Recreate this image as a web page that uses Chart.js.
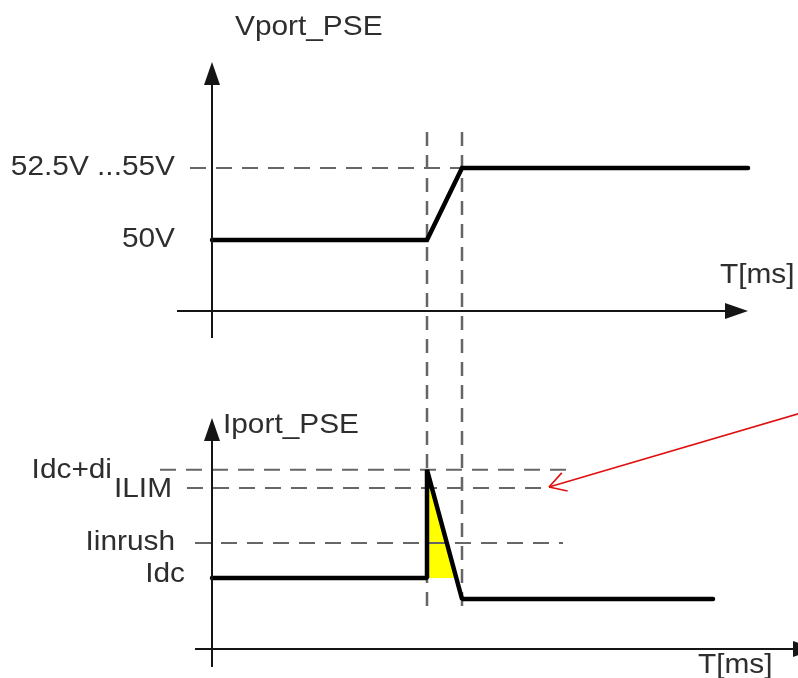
<!DOCTYPE html>
<html>
<head>
<meta charset="utf-8">
<title>Vport / Iport PSE</title>
<script src="https://cdn.jsdelivr.net/npm/chart.js@4.4.1/dist/chart.umd.min.js"></script>
<style>
  html, body { margin: 0; padding: 0; background: #fff; }
  #wrap { width: 798px; height: 678px; }
</style>
</head>
<body>
<div id="wrap"><canvas id="pse" width="798" height="678"></canvas></div>
<script>
// time points in ms (diagram units)
const tStart = 0;
const tRampStart = 21.5;
const tRampEnd = 25;

// Vport_PSE waveform
const vTime = [0, 21.5, 25, 53.6];
const vPort = [50, 50, 55, 55];
const vLevels = [55, 50];
const vLabels = ['52.5V ...55V', '50V'];

// Iport_PSE waveform
const iTime = [0, 21.5, 21.5, 25, 50.1];
const iPort = [0.40, 0.40, 0.709, 0.34, 0.34];
const iLevels = [0.709, 0.657, 0.50, 0.40];
const iLabels = ['Idc+di', 'ILIM', 'Iinrush', 'Idc'];

// inrush area (yellow), from the spike down to Idc
const inrushTime = [21.5, 24.5];
const inrushCurrent = [0.709, 0.40];

// dashed reference lines
const vRefTime = [-2.2, 25];
const idcDiRefTime = [-5.2, 35.8];
const ilimRefTime = [-2.5, 33.6];
const inrushRefTime = [-1.7, 35.1];
const markerV = [57.5, 24.1];

// red pointer to ILIM
const pointerTime = [33.7, 59.8];
const pointerCurrent = [0.66, 0.879];

const pts = (xs, ys) => xs.map((x, i) => ({ x, y: ys[i] }));

const FONT = "28px 'Liberation Sans', Arial, sans-serif";
const TEXT = '#2e2e2e';
const DASH_GREY = '#666666';
const STRETCH = 1.065; // the original lettering is a little wide

function dashed(data, axis, dash, width) {
  return {
    data, yAxisID: axis, borderColor: DASH_GREY, borderWidth: width || 2,
    borderDash: dash, pointRadius: 0, fill: false, order: 3
  };
}

const diagramPlugin = {
  id: 'diagram',
  afterDatasetsDraw(chart) {
    const { ctx } = chart;
    const { x, yV, yI } = chart.scales;

    function arrowAxis(x0, y0, x1, y1) {
      ctx.save();
      ctx.strokeStyle = '#151515';
      ctx.fillStyle = '#151515';
      ctx.lineWidth = 2;
      const ang = Math.atan2(y1 - y0, x1 - x0);
      const len = 23, half = 8;
      const bx = x1 - len * Math.cos(ang), by = y1 - len * Math.sin(ang);
      ctx.beginPath();
      ctx.moveTo(x0, y0);
      ctx.lineTo(bx, by);
      ctx.stroke();
      ctx.beginPath();
      ctx.moveTo(x1, y1);
      ctx.lineTo(bx + half * Math.sin(ang), by - half * Math.cos(ang));
      ctx.lineTo(bx - half * Math.sin(ang), by + half * Math.cos(ang));
      ctx.closePath();
      ctx.fill();
      ctx.restore();
    }

    function text(str, px, py, align) {
      ctx.save();
      ctx.translate(px, py);
      ctx.scale(STRETCH, 1);
      ctx.textAlign = align;
      ctx.fillText(str, 0, 0);
      ctx.restore();
    }

    const x0 = x.getPixelForValue(tStart);
    // top panel axes
    arrowAxis(x0, yV.getPixelForValue(43.19), x0, yV.getPixelForValue(62.36));
    arrowAxis(x.getPixelForValue(-3.5), yV.getPixelForValue(45.07),
              x.getPixelForValue(53.6), yV.getPixelForValue(45.07));
    // bottom panel axes
    arrowAxis(x0, yI.getPixelForValue(0.146), x0, yI.getPixelForValue(0.857));
    arrowAxis(x.getPixelForValue(-1.7), yI.getPixelForValue(0.197),
              x.getPixelForValue(60.4), yI.getPixelForValue(0.197));

    ctx.save();
    ctx.font = FONT;
    ctx.fillStyle = TEXT;
    ctx.textBaseline = 'alphabetic';

    text('Vport_PSE', x0 + 23, 35, 'left');
    text('T[ms]', x.getPixelForValue(50.8), yV.getPixelForValue(45.07) - 28, 'left');
    text('Iport_PSE', x0 + 11, yI.getPixelForValue(0.857) + 15, 'left');
    text('T[ms]', x.getPixelForValue(48.6), yI.getPixelForValue(0.197) + 24, 'left');

    vLevels.forEach((v, i) => {
      text(vLabels[i], x0 - 37, yV.getPixelForValue(v) + 7, 'right');
    });
    const iRight = [100, 40, 37, 27];
    const iDrop = [8, 9, 7, 4];
    iLevels.forEach((v, i) => {
      text(iLabels[i], x0 - iRight[i], yI.getPixelForValue(v) + iDrop[i], 'right');
    });
    ctx.restore();

    // open arrow head on the red pointer
    const meta = chart.getDatasetMeta(chart.data.datasets.findIndex(d => d.label === 'pointer'));
    const tip = meta.data[0], tail = meta.data[1];
    const ang = Math.atan2(tail.y - tip.y, tail.x - tip.x);
    ctx.save();
    ctx.strokeStyle = '#e01010';
    ctx.lineWidth = 1.6;
    ctx.beginPath();
    [-0.55, 0.5].forEach(d => {
      ctx.moveTo(tip.x, tip.y);
      ctx.lineTo(tip.x + 19 * Math.cos(ang + d), tip.y + 19 * Math.sin(ang + d));
    });
    ctx.stroke();
    ctx.restore();
  }
};

new Chart(document.getElementById('pse'), {
  type: 'line',
  data: {
    datasets: [
      {
        label: 'Vport_PSE', data: pts(vTime, vPort), yAxisID: 'yV',
        borderColor: '#000', borderWidth: 4.5, pointRadius: 0,
        borderCapStyle: 'round', borderJoinStyle: 'miter', fill: false, order: 0
      },
      {
        label: 'Iport_PSE', data: pts(iTime, iPort), yAxisID: 'yI',
        borderColor: '#000', borderWidth: 4.5, pointRadius: 0,
        borderCapStyle: 'round', borderJoinStyle: 'bevel', fill: false, order: 0
      },
      {
        label: 'inrush', data: pts(inrushTime, inrushCurrent), yAxisID: 'yI',
        borderWidth: 0, borderColor: 'rgba(0,0,0,0)', backgroundColor: '#ffff00',
        pointRadius: 0, fill: { value: 0.40 }, order: 5
      },
      dashed(pts(vRefTime, [vLevels[0], vLevels[0]]), 'yV', [16, 10]),
      dashed(pts(idcDiRefTime, [iLevels[0], iLevels[0]]), 'yI', [16, 10]),
      dashed(pts(ilimRefTime, [iLevels[1], iLevels[1]]), 'yI', [16, 10]),
      dashed(pts(inrushRefTime, [iLevels[2], iLevels[2]]), 'yI', [16, 10]),
      dashed(pts([tRampStart, tRampStart], markerV), 'yV', [14, 9], 2.5),
      dashed(pts([tRampEnd, tRampEnd], markerV), 'yV', [14, 9], 2.5),
      {
        label: 'pointer', data: pts(pointerTime, pointerCurrent), yAxisID: 'yI',
        borderColor: '#e01010', borderWidth: 1.6, pointRadius: 0, fill: false, order: 1
      }
    ]
  },
  options: {
    responsive: false,
    animation: false,
    events: [],
    layout: { padding: 0 },
    plugins: { legend: { display: false }, tooltip: { enabled: false } },
    scales: {
      x: { type: 'linear', min: -21.2, max: 58.6, display: false },
      yV: { type: 'linear', min: 19.583, max: 66.667, display: false },
      yI: { type: 'linear', min: 0.1143, max: 2.0514, display: false }
    }
  },
  plugins: [diagramPlugin]
});
</script>
</body>
</html>
